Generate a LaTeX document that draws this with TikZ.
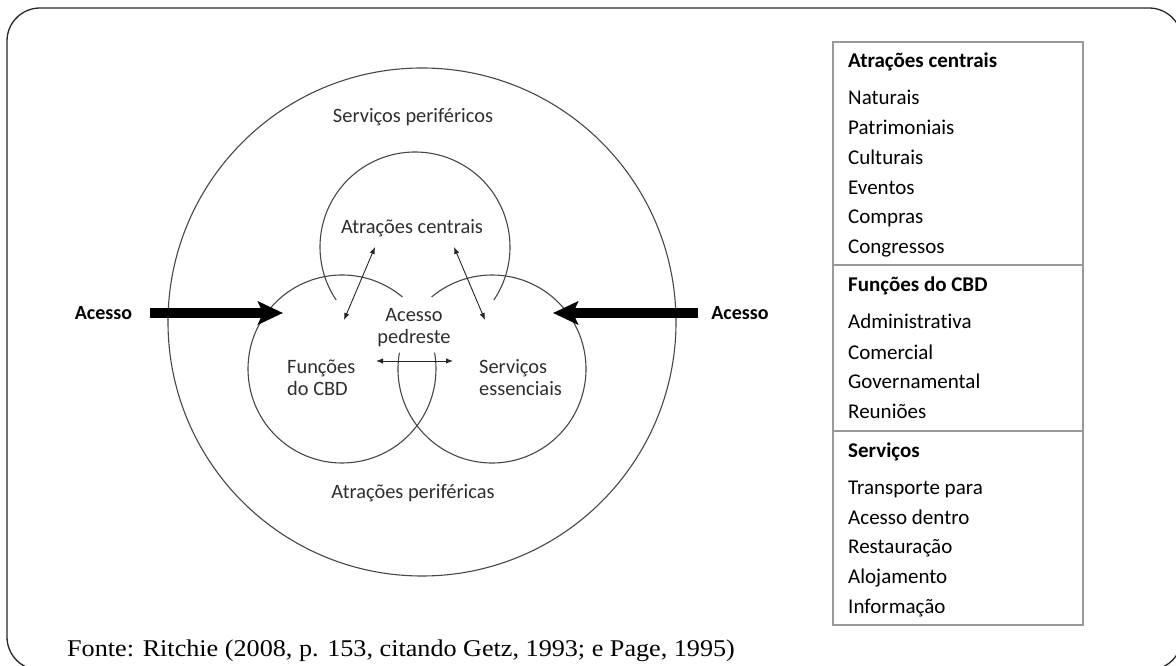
\documentclass[tikz,border=0pt]{standalone}
\usepackage{fontspec}
\setmainfont{Carlito}[Ligatures=NoCommon]
\newfontfamily\srcfont{Liberation Serif}
\usetikzlibrary{arrows.meta}
\begin{document}
\begin{tikzpicture}[x=1pt,y=1pt,
  ring/.style={draw=black!72, line width=1.1pt},
  link/.style={draw=black!85, line width=0.9pt,
    {Latex[length=7pt,width=5.5pt]}-{Latex[length=7pt,width=5.5pt]}},
  accessarrow/.style={draw=black, line width=9.5pt,
    -{Stealth[length=25pt,width=23pt,inset=5pt]}},
  lbl/.style={text=black!82, font=\fontsize{20.4}{22}\selectfont, inner sep=0pt},
  acc/.style={font=\bfseries\fontsize{20}{22}\selectfont, inner sep=0pt},
  item/.style={anchor=base west, font=\fontsize{21}{23}\selectfont, inner sep=0pt},
  head/.style={item, font=\bfseries\fontsize{21}{23}\selectfont},
  tablerule/.style={draw=black!40, line width=2pt},
]
\useasboundingbox (0,0) rectangle (1176,666);

% outer rounded frame, partly running past the page edge
\begin{scope}
  \clip (0,0) rectangle (1176,666);
  \draw[black!85, line width=1.3pt, rounded corners=33pt] (7,-4) rectangle (1182,658);
\end{scope}

% concentric structure
\coordinate (outer) at (422,344);
\coordinate (core) at (415,419);
\coordinate (cbd) at (342,297);
\coordinate (svc) at (492,297);
\draw[ring] (outer) circle[radius=254];
\draw[ring] (core) ++(-34:95) arc[start angle=-34, end angle=214, radius=95];
\draw[ring] (cbd) ++(50:94) arc[start angle=50, end angle=370, radius=94];
\draw[ring] (svc) ++(170:94) arc[start angle=170, end angle=490, radius=94];

% labels inside the circles
\node[lbl] (perserv) at (413,549) {Serviços periféricos};
\node[lbl] (central) at (412,438) {Atrações centrais};
\node[lbl, align=center] (walk) at (414,338) {Acesso\\pedreste};
\node[lbl, align=left, anchor=west] (func) at (287,288) {Funções\\do CBD};
\node[lbl, align=left, anchor=west] (ess) at (479,288) {Serviços\\essenciais};
\node[lbl] (perattr) at (413,173) {Atrações periféricas};

% pedestrian links
\coordinate (c1) at (375,419);
\coordinate (f1) at (344,346);
\coordinate (c2) at (454,419);
\coordinate (s2) at (485,346);
\coordinate (f3) at (376,305);
\coordinate (s3) at (453,305);
\draw[link] (c1) -- (f1);
\draw[link] (c2) -- (s2);
\draw[link] (f3) -- (s3);

% access arrows
\node[acc] (accL) at (103.5,353) {Acesso};
\node[acc] (accR) at (740,353) {Acesso};
\coordinate (inL) at (150,353);
\coordinate (tipL) at (283,353);
\coordinate (inR) at (698,353);
\coordinate (tipR) at (553,353);
\draw[accessarrow] (inL) -- (tipL);
\draw[accessarrow] (inR) -- (tipR);

% component table
\draw[tablerule] (833,624) rectangle (1083,41);
\draw[tablerule] (833,401) -- (1083,401);
\draw[tablerule] (833,235) -- (1083,235);
\node[head] (h1) at (848,598) {Atrações centrais};
\node[item] (t1) at (848,561) {Naturais};
\node[item] (t2) at (848,531) {Patrimoniais};
\node[item] (t3) at (848,501) {Culturais};
\node[item] (t4) at (848,471) {Eventos};
\node[item] (t5) at (848,442) {Compras};
\node[item] (t6) at (848,412) {Congressos};
\node[head] (h2) at (848,374) {Funções do CBD};
\node[item] (t7) at (848,337) {Administrativa};
\node[item] (t8) at (848,306) {Comercial};
\node[item] (t9) at (848,277) {Governamental};
\node[item] (t10) at (848,247) {Reuniões};
\node[head] (h3) at (848,208) {Serviços};
\node[item] (t11) at (848,171) {Transporte para};
\node[item] (t12) at (848,141) {Acesso dentro};
\node[item] (t13) at (848,112) {Restauração};
\node[item] (t14) at (848,82) {Alojamento};
\node[item] (t15) at (848,52) {Informação};

% source line
\node[anchor=base west, inner sep=0pt] (src) at (67,9)
  {\scalebox{1.09}[1]{\srcfont\fontsize{24}{28}\selectfont Fonte: Ritchie (2008, p. 153, citando Getz, 1993; e Page, 1995)}};
\end{tikzpicture}
\end{document}
